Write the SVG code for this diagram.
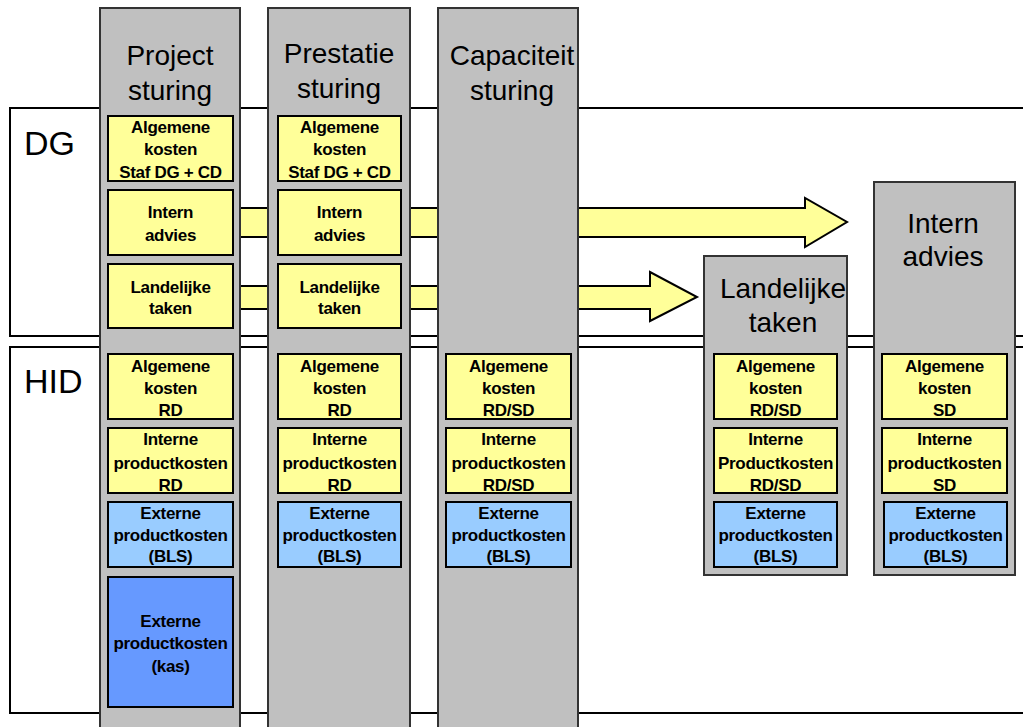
<svg xmlns="http://www.w3.org/2000/svg" width="1023" height="727" viewBox="0 0 1023 727">
  <style>
    .band { fill: #FFFFFF; stroke: #000000; stroke-width: 2; }
    .col { fill: #C0C0C0; stroke: #333333; stroke-width: 2; }
    .yel { fill: #FFFF99; stroke: #000000; stroke-width: 2; }
    .lblue { fill: #99CCFF; stroke: #000000; stroke-width: 2; }
    .dblue { fill: #6699FF; stroke: #000000; stroke-width: 2; }
    .arrow { fill: #FFFF99; stroke: #000000; stroke-width: 2; stroke-linejoin: miter; }
    .head { font-family: "Liberation Sans", Arial, sans-serif; font-size: 28px; fill: #000000; text-anchor: middle; }
    .band-label { font-family: "Liberation Sans", Arial, sans-serif; font-size: 34px; fill: #000000; }
    .t { font-family: "Liberation Sans", Arial, sans-serif; font-size: 17px; font-weight: bold; fill: #000000; text-anchor: middle; letter-spacing: -0.3px; }
  </style>

  <!-- organisational bands -->
  <g id="band-dg">
    <rect class="band" x="10" y="108" width="1030" height="228"/>
    <text class="band-label" x="24" y="155">DG</text>
  </g>
  <g id="band-hid">
    <rect class="band" x="10" y="347" width="1030" height="366"/>
    <text class="band-label" x="24" y="393">HID</text>
  </g>

  <!-- flow arrows -->
  <g id="connectors">
    <polygon class="arrow" points="220,208 805,208 805,198 847,222 805,247 805,237 220,237"/>
    <polygon class="arrow" points="220,286 650,286 650,272 697,297 650,321 650,309 220,309"/>
  </g>

  <!-- Project sturing -->
  <g id="col-project">
    <rect class="col" x="100" y="8" width="140" height="730"/>
    <text class="head" x="170" y="65">Project</text>
    <text class="head" x="170" y="100">sturing</text>
    <rect class="yel" x="108" y="116" width="125" height="65"/>
    <text class="t" x="170.5" y="133">Algemene</text>
    <text class="t" x="170.5" y="155">kosten</text>
    <text class="t" x="170.5" y="178">Staf DG + CD</text>
    <rect class="yel" x="108" y="190" width="125" height="65"/>
    <text class="t" x="170.5" y="218">Intern</text>
    <text class="t" x="170.5" y="241">advies</text>
    <rect class="yel" x="108" y="264" width="125" height="64"/>
    <text class="t" x="170.5" y="293">Landelijke</text>
    <text class="t" x="170.5" y="314">taken</text>
    <rect class="yel" x="108" y="354" width="125" height="65"/>
    <text class="t" x="170.5" y="372">Algemene</text>
    <text class="t" x="170.5" y="394">kosten</text>
    <text class="t" x="170.5" y="416">RD</text>
    <rect class="yel" x="108" y="428" width="125" height="65"/>
    <text class="t" x="170.5" y="445">Interne</text>
    <text class="t" x="170.5" y="469">productkosten</text>
    <text class="t" x="170.5" y="491">RD</text>
    <rect class="lblue" x="108" y="502" width="125" height="65"/>
    <text class="t" x="170.5" y="519">Externe</text>
    <text class="t" x="170.5" y="541">productkosten</text>
    <text class="t" x="170.5" y="562">(BLS)</text>
    <rect class="dblue" x="108" y="577" width="125" height="130"/>
    <text class="t" x="170.5" y="627">Externe</text>
    <text class="t" x="170.5" y="649">productkosten</text>
    <text class="t" x="170.5" y="672">(kas)</text>
  </g>

  <!-- Prestatie sturing -->
  <g id="col-prestatie">
    <rect class="col" x="268" y="8" width="142" height="730"/>
    <text class="head" x="339" y="63">Prestatie</text>
    <text class="head" x="339" y="98">sturing</text>
    <rect class="yel" x="278" y="116" width="123" height="65"/>
    <text class="t" x="339.5" y="133">Algemene</text>
    <text class="t" x="339.5" y="155">kosten</text>
    <text class="t" x="339.5" y="178">Staf DG + CD</text>
    <rect class="yel" x="278" y="190" width="123" height="65"/>
    <text class="t" x="339.5" y="218">Intern</text>
    <text class="t" x="339.5" y="241">advies</text>
    <rect class="yel" x="278" y="264" width="123" height="64"/>
    <text class="t" x="339.5" y="293">Landelijke</text>
    <text class="t" x="339.5" y="314">taken</text>
    <rect class="yel" x="278" y="354" width="123" height="65"/>
    <text class="t" x="339.5" y="372">Algemene</text>
    <text class="t" x="339.5" y="394">kosten</text>
    <text class="t" x="339.5" y="416">RD</text>
    <rect class="yel" x="278" y="428" width="123" height="65"/>
    <text class="t" x="339.5" y="445">Interne</text>
    <text class="t" x="339.5" y="469">productkosten</text>
    <text class="t" x="339.5" y="491">RD</text>
    <rect class="lblue" x="278" y="502" width="123" height="65"/>
    <text class="t" x="339.5" y="519">Externe</text>
    <text class="t" x="339.5" y="541">productkosten</text>
    <text class="t" x="339.5" y="562">(BLS)</text>
  </g>

  <!-- Capaciteit sturing -->
  <g id="col-capaciteit">
    <rect class="col" x="438" y="8" width="140" height="730"/>
    <text class="head" x="512" y="65">Capaciteit</text>
    <text class="head" x="512" y="100">sturing</text>
    <rect class="yel" x="446" y="354" width="125" height="65"/>
    <text class="t" x="508.5" y="372">Algemene</text>
    <text class="t" x="508.5" y="394">kosten</text>
    <text class="t" x="508.5" y="416">RD/SD</text>
    <rect class="yel" x="446" y="428" width="125" height="65"/>
    <text class="t" x="508.5" y="445">Interne</text>
    <text class="t" x="508.5" y="469">productkosten</text>
    <text class="t" x="508.5" y="491">RD/SD</text>
    <rect class="lblue" x="446" y="502" width="125" height="65"/>
    <text class="t" x="508.5" y="519">Externe</text>
    <text class="t" x="508.5" y="541">productkosten</text>
    <text class="t" x="508.5" y="562">(BLS)</text>
  </g>

  <!-- Landelijke taken -->
  <g id="col-landelijke">
    <rect class="col" x="704" y="256" width="143" height="319"/>
    <text class="head" x="783" y="298">Landelijke</text>
    <text class="head" x="783" y="332">taken</text>
    <rect class="yel" x="714" y="354" width="123" height="65"/>
    <text class="t" x="775.5" y="372">Algemene</text>
    <text class="t" x="775.5" y="394">kosten</text>
    <text class="t" x="775.5" y="416">RD/SD</text>
    <rect class="yel" x="714" y="428" width="123" height="65"/>
    <text class="t" x="775.5" y="445">Interne</text>
    <text class="t" x="775.5" y="469">Productkosten</text>
    <text class="t" x="775.5" y="491">RD/SD</text>
    <rect class="lblue" x="714" y="502" width="123" height="65"/>
    <text class="t" x="775.5" y="519">Externe</text>
    <text class="t" x="775.5" y="541">productkosten</text>
    <text class="t" x="775.5" y="562">(BLS)</text>
  </g>

  <!-- Intern advies -->
  <g id="col-intern">
    <rect class="col" x="874" y="182" width="141" height="393"/>
    <text class="head" x="943" y="233">Intern</text>
    <text class="head" x="943" y="266">advies</text>
    <rect class="yel" x="882" y="354" width="125" height="65"/>
    <text class="t" x="944.5" y="372">Algemene</text>
    <text class="t" x="944.5" y="394">kosten</text>
    <text class="t" x="944.5" y="416">SD</text>
    <rect class="yel" x="882" y="428" width="125" height="65"/>
    <text class="t" x="944.5" y="445">Interne</text>
    <text class="t" x="944.5" y="469">productkosten</text>
    <text class="t" x="944.5" y="491">SD</text>
    <rect class="lblue" x="884" y="502" width="123" height="65"/>
    <text class="t" x="945.5" y="519">Externe</text>
    <text class="t" x="945.5" y="541">productkosten</text>
    <text class="t" x="945.5" y="562">(BLS)</text>
  </g>
</svg>
